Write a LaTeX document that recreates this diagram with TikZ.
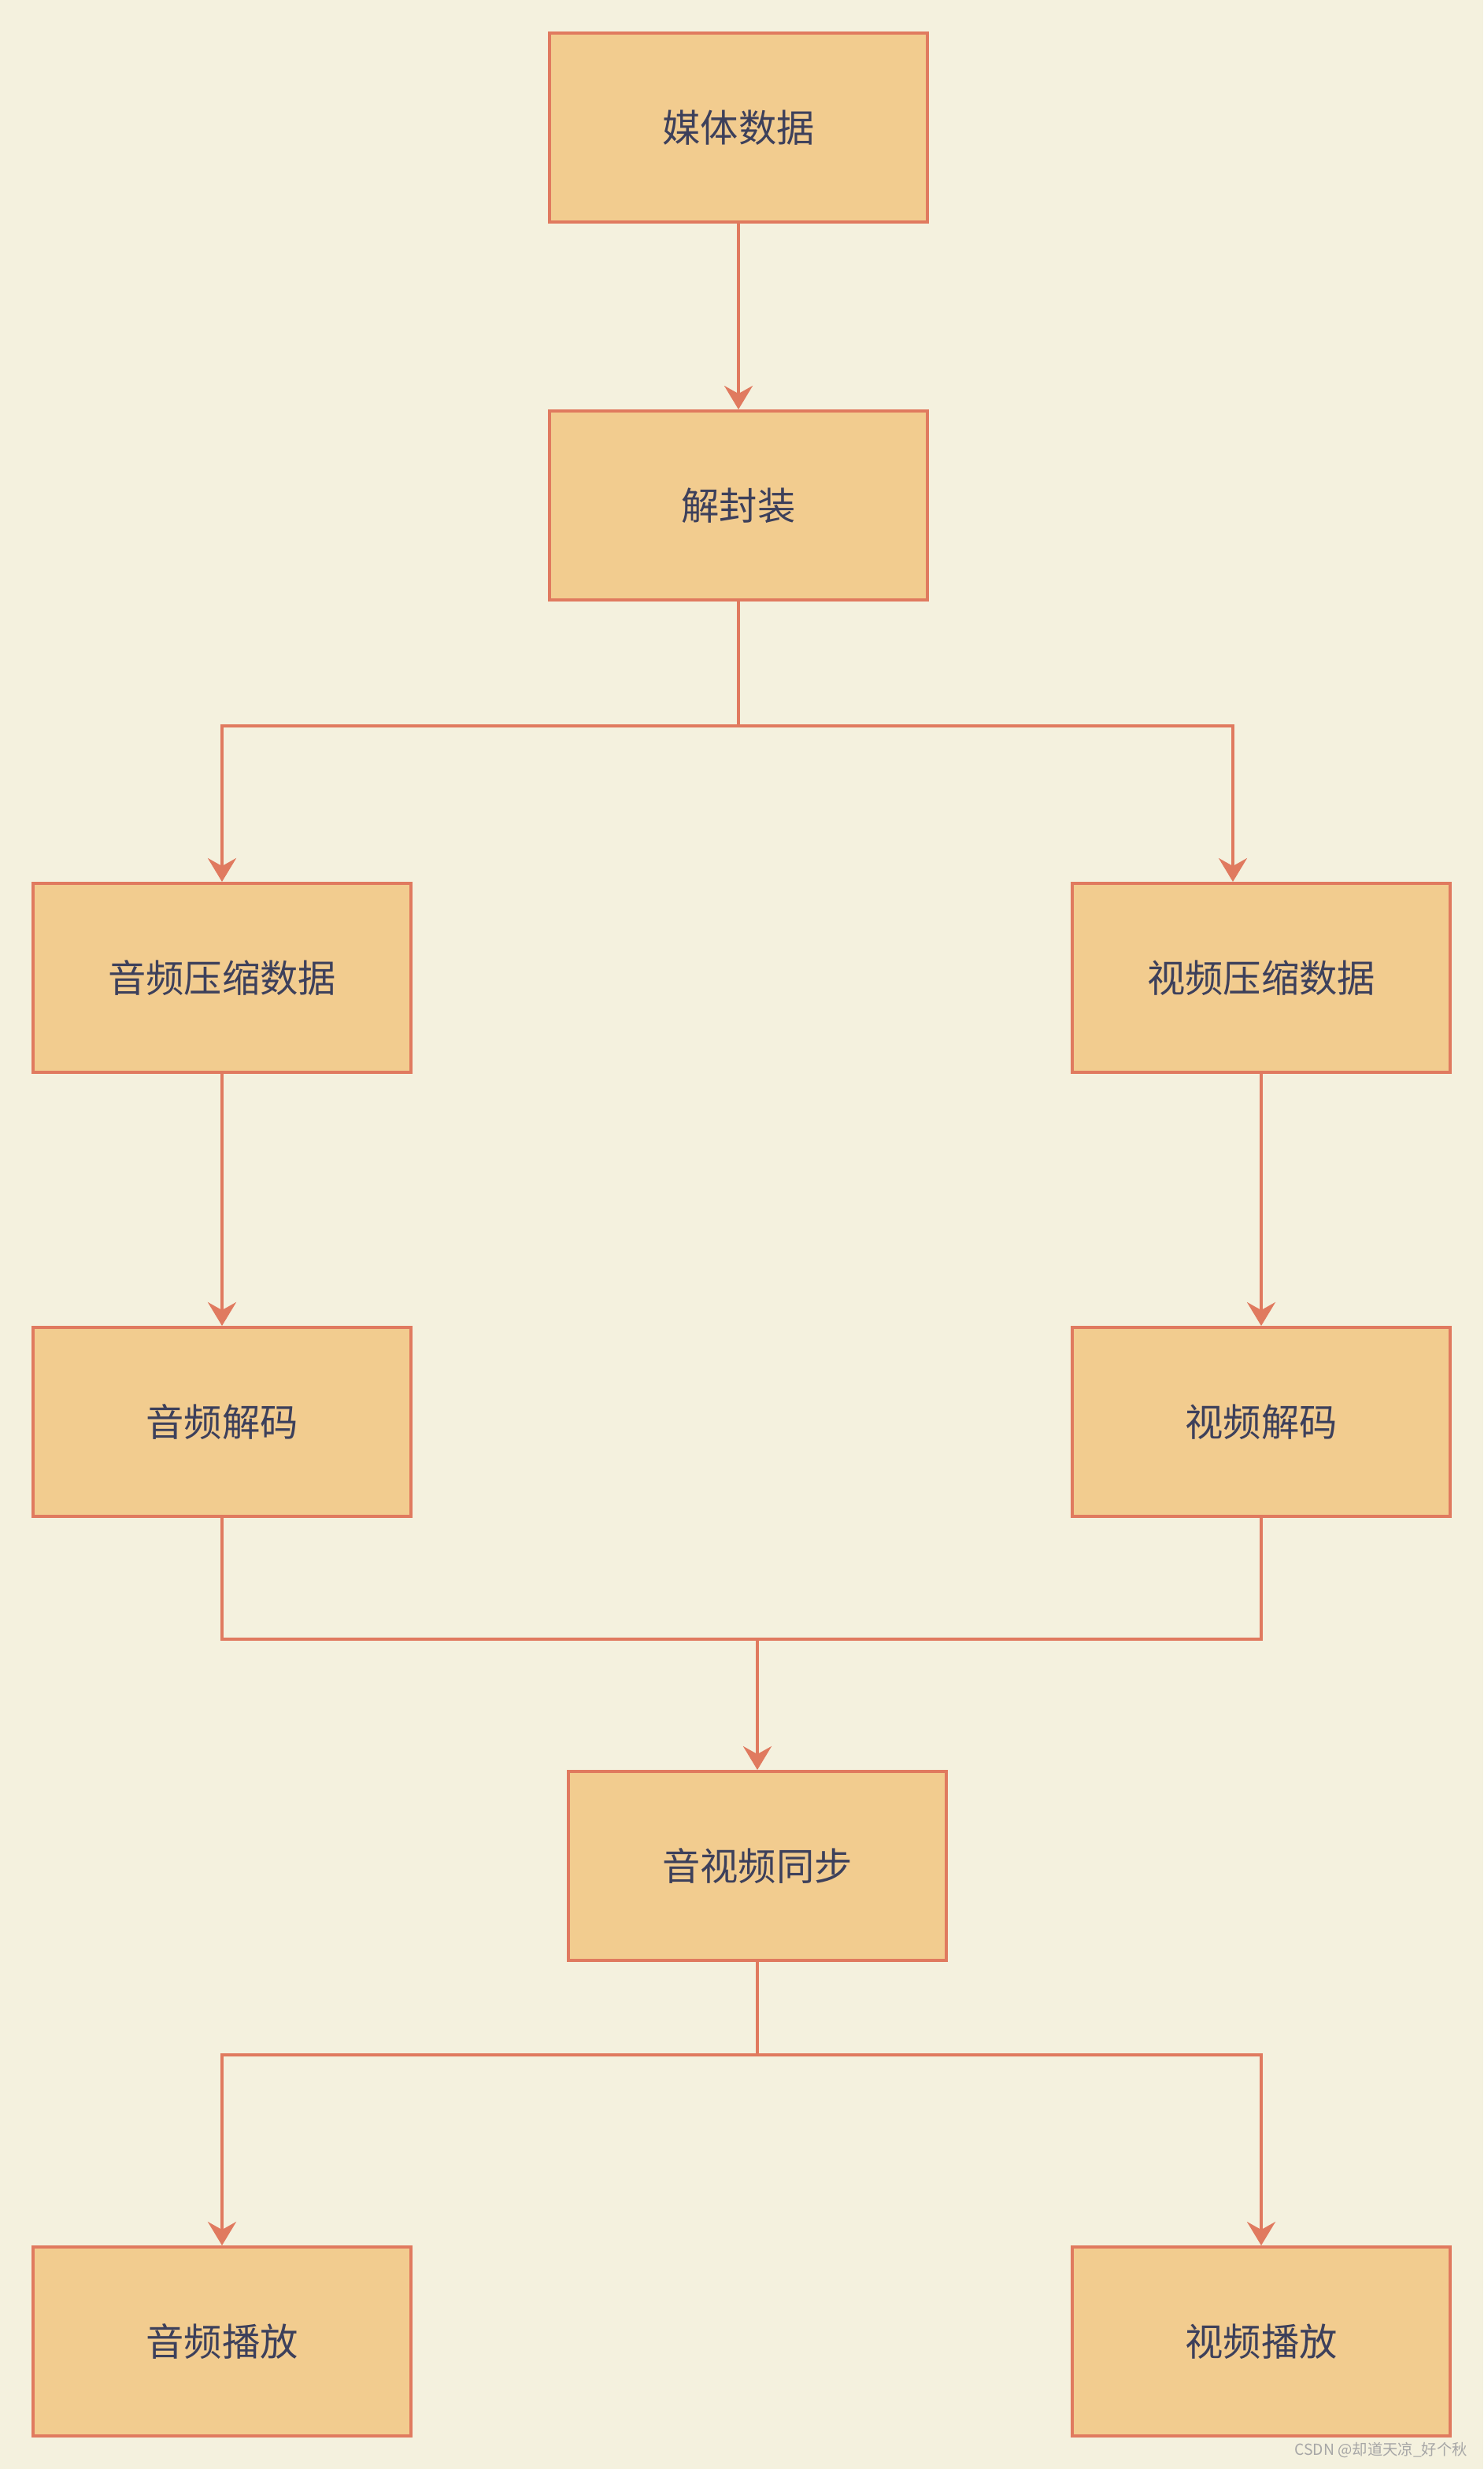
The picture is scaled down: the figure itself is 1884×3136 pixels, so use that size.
\documentclass[tikz,border=0pt]{standalone}
\usepackage{fontspec}
\newfontfamily\cjk{Noto Sans CJK SC}
\usetikzlibrary{arrows.meta,calc}
\definecolor{bgcream}{HTML}{F4F1DE}
\definecolor{boxfill}{HTML}{F2CC8F}
\definecolor{edgered}{HTML}{E07A5F}
\definecolor{textnavy}{HTML}{3D405B}
\begin{document}
\begin{tikzpicture}[x=0.02cm,y=-0.02cm]
\tikzstyle{process-box}=[rectangle, draw=edgered, fill=boxfill, line width=0.08cm, minimum width=9.6cm, minimum height=4.8cm, inner sep=0pt, text=textnavy, font=\cjk\fontsize{27.5}{32}\selectfont]
\tikzstyle{flow-edge}=[-{Stealth[length=0.6cm,width=0.72cm,inset=0.2cm]}, edgered, line width=0.08cm]
\tikzstyle{flow-line}=[edgered, line width=0.08cm]
\useasboundingbox[fill=bgcream] (0,0) rectangle (1884,3136);
\node[style=process-box] (media) at (938,162) {媒体数据};
\node[style=process-box] (demux) at (938,642) {解封装};
\node[style=process-box] (acomp) at (282,1242) {音频压缩数据};
\node[style=process-box] (vcomp) at (1602,1242) {视频压缩数据};
\node[style=process-box] (adec) at (282,1806) {音频解码};
\node[style=process-box] (vdec) at (1602,1806) {视频解码};
\node[style=process-box] (sync) at (962,2370) {音视频同步};
\node[style=process-box] (aplay) at (282,2974) {音频播放};
\node[style=process-box] (vplay) at (1602,2974) {视频播放};
\node[anchor=east, text=black!35, font=\cjk\fontsize{11}{13}\selectfont] (mark) at (1870,3112) {CSDN @却道天凉\_好个秋};

\coordinate (demux-split) at (938,922);
\coordinate (dec-join) at (962,2082);
\coordinate (sync-split) at (962,2610);

\draw[style=flow-edge] (media) -- (demux);

\draw[style=flow-line] (demux) -- (demux-split);
\draw[style=flow-edge] (demux-split) -| (acomp);
\draw[style=flow-edge] (demux-split) -| ($(vcomp.north)+(-36,0)$);

\draw[style=flow-edge] (acomp) -- (adec);
\draw[style=flow-edge] (vcomp) -- (vdec);

\draw[style=flow-line] (adec) |- (dec-join);
\draw[style=flow-line] (vdec) |- (dec-join);
\draw[style=flow-edge] (dec-join) -- (sync);

\draw[style=flow-line] (sync) -- (sync-split);
\draw[style=flow-edge] (sync-split) -| (aplay);
\draw[style=flow-edge] (sync-split) -| (vplay);

\end{tikzpicture}
\end{document}
